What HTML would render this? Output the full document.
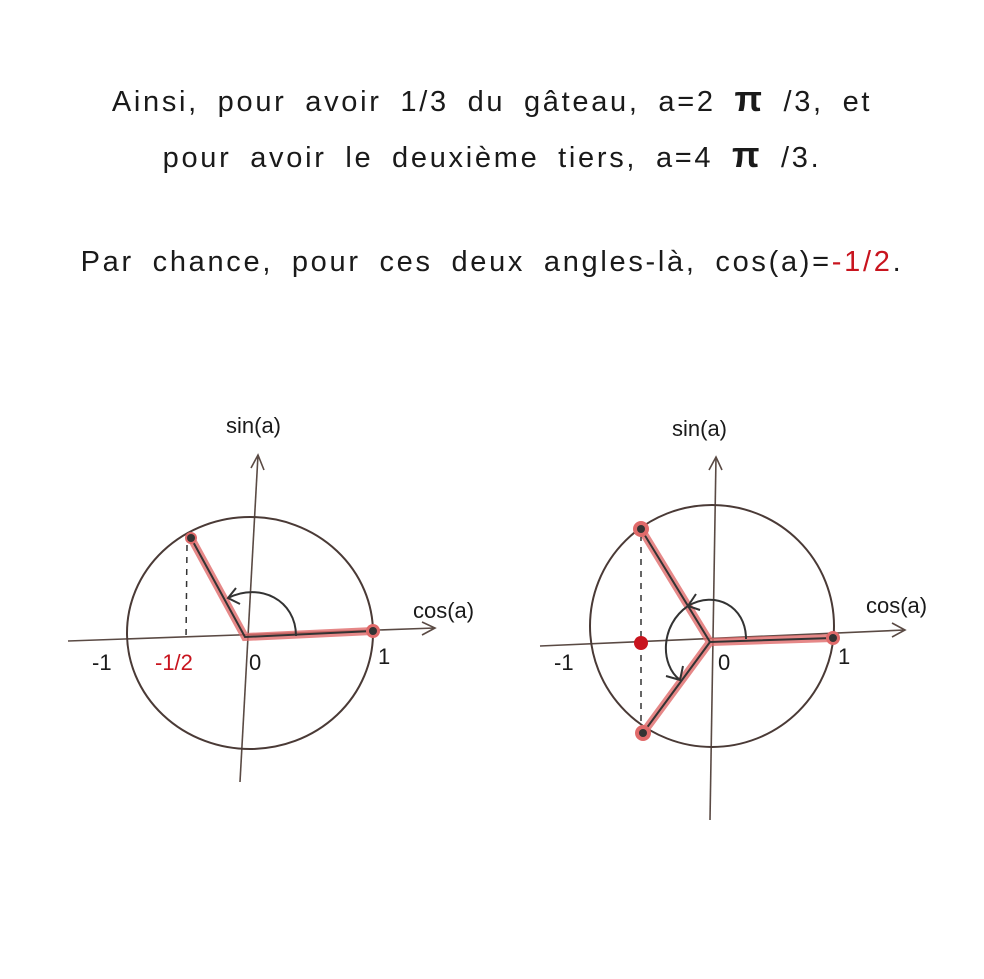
<!DOCTYPE html>
<html><head><meta charset="utf-8"><style>
html,body{margin:0;padding:0;background:#fff;}
body{width:984px;height:979px;position:relative;overflow:hidden;font-family:"Liberation Sans","DejaVu Sans",sans-serif;}
.t{position:absolute;left:0;width:984px;text-align:center;font-size:29px;color:#1a1a1a;letter-spacing:2.7px;word-spacing:8px;}
.r{color:#c8141e;}
</style></head><body>
<div class="t" style="top:78px">Ainsi, pour avoir 1/3 du gâteau, a=2 <b style="font-size:36px">π</b> /3, et</div>
<div class="t" style="top:134px">pour avoir le deuxième tiers, a=4 <b style="font-size:36px">π</b> /3.</div>
<div class="t" style="top:246px">Par chance, pour ces deux angles-là, cos(a)=<span class="r">-1/2</span>.</div>
<svg width="984" height="979" style="position:absolute;left:0;top:0" font-family="Liberation Sans, sans-serif">
<g fill="none" stroke="#5a4a44" stroke-width="1.6">
<line x1="68" y1="641" x2="435" y2="628"/><polyline points="422,622 435,628 422,635"/>
<line x1="240" y1="782" x2="258" y2="455"/><polyline points="251,468 258,455 264,470"/>
<line x1="540" y1="646" x2="905" y2="630"/><polyline points="892,623 905,630 892,637"/>
<line x1="710" y1="820" x2="716" y2="457"/><polyline points="709,470 716,457 722,470"/>
</g>
<g fill="none" stroke="#4a3a36" stroke-width="2">
<ellipse cx="250" cy="633" rx="123" ry="116"/>
<ellipse cx="712" cy="626" rx="122" ry="121"/>
</g>
<g stroke="#e06a6a" stroke-width="8" stroke-linecap="round" opacity="0.8" fill="none">
<polyline points="191,538 245,637 373,631"/>
<polyline points="641,529 710,642 833,638"/>
<line x1="710" y1="642" x2="643" y2="733"/>
</g>
<g stroke="#333" stroke-width="2" fill="none">
<polyline points="191,538 245,637 373,631"/>
<polyline points="641,529 710,642 833,638"/>
<line x1="710" y1="642" x2="643" y2="733"/>
<path d="M296,636 C296,600 260,582 228,598"/><polyline points="236,588 228,598 240,604"/>
<path d="M746,639 C746,606 715,590 688,606"/><polyline points="696,594 688,606 700,610"/>
<path d="M688,606 C660,625 660,665 680,680"/><polyline points="666,676 680,680 683,666"/>
</g>
<g stroke="#333" stroke-width="1.5" stroke-dasharray="6,6">
<line x1="187" y1="545" x2="186" y2="640"/>
<line x1="641" y1="535" x2="641" y2="728"/>
</g>
<g fill="#e06a6a"><circle cx="191" cy="538" r="6"/><circle cx="373" cy="631" r="7"/><circle cx="641" cy="529" r="8"/><circle cx="643" cy="733" r="8"/><circle cx="833" cy="638" r="7"/></g>
<g fill="#333"><circle cx="191" cy="538" r="4"/><circle cx="373" cy="631" r="4"/><circle cx="641" cy="529" r="4"/><circle cx="643" cy="733" r="4"/><circle cx="833" cy="638" r="4"/></g>
<circle cx="641" cy="643" r="7" fill="#c8141e"/>
<g font-size="22" fill="#1a1a1a">
<text x="92" y="670">-1</text><text x="155" y="670" fill="#c8141e">-1/2</text><text x="249" y="670">0</text><text x="378" y="664">1</text>
<text x="413" y="618">cos(a)</text><text x="226" y="433">sin(a)</text>
<text x="554" y="670">-1</text><text x="718" y="670">0</text><text x="838" y="664">1</text>
<text x="866" y="613">cos(a)</text><text x="672" y="436">sin(a)</text>
</g>
</svg>
</body></html>
